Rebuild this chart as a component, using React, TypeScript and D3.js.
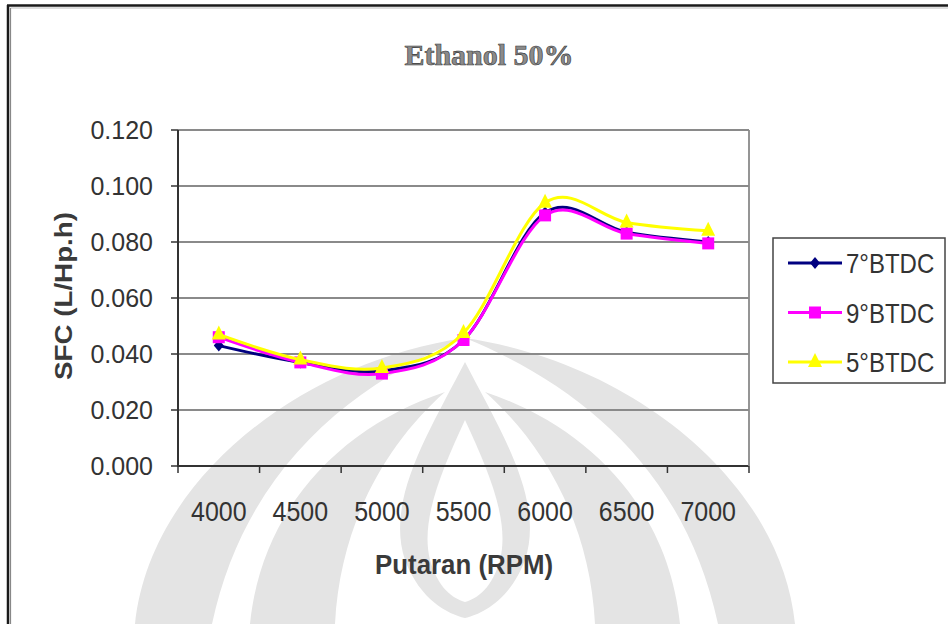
import React from "react";
import * as d3 from "d3";

const categories = ["4000", "4500", "5000", "5500", "6000", "6500", "7000"];
const s7 = [0.043, 0.037, 0.034, 0.045, 0.0905, 0.0835, 0.080];
const s9 = [0.046, 0.037, 0.033, 0.045, 0.0895, 0.083, 0.0795];
const s5 = [0.047, 0.038, 0.035, 0.0475, 0.094, 0.087, 0.084];
const yTicks = [0, 0.02, 0.04, 0.06, 0.08, 0.1, 0.12];
const seriesNames = ["7°BTDC", "9°BTDC", "5°BTDC"];
const seriesColors = ["#000080", "#FF00FF", "#FFFF00"];

const W = 948;
const H = 624;
const L = 178, R = 749, T = 130, B = 466;

// watermark (decorative background emblem), mirrored about x = 465
const wmLeft = [
  "M135,624 C150,480 300,362 465,338 C350,385 245,470 212,624 Z",
  "M250,624 C262,505 345,425 445,392 C385,445 340,525 335,624 Z",
];
const wmCenter =
  "M465,362 C500,430 545,500 525,560 C510,600 482,614 465,618 C448,614 420,600 405,560 C385,500 430,430 465,362 Z";
const wmCenterInner =
  "M465,420 C488,470 510,520 500,560 C492,588 478,598 465,602 C452,598 438,588 430,560 C420,520 442,470 465,420 Z";

export default function App() {
  const x = d3.scaleBand<string>().domain(categories).range([L, R]);
  const y = d3.scaleLinear().domain([0, 0.12]).range([B, T]);
  const cx = (c: string) => (x(c) as number) + x.bandwidth() / 2;
  const line = d3
    .line<number>()
    .x((_, i) => cx(categories[i]))
    .y((d) => y(d))
    .curve(d3.curveCardinal.tension(0));
  const allSeries = [s7, s9, s5];
  const font = "'Liberation Sans', Arial, sans-serif";
  const txt = "#333";
  const wm = "#e4e4e4";

  const marker = (k: number, px: number, py: number, key: string) => {
    if (k === 0) {
      return <path key={key} d={`M${px},${py - 6}L${px + 5},${py}L${px},${py + 6}L${px - 5},${py}Z`} fill="#000080" />;
    }
    if (k === 1) {
      return <rect key={key} x={px - 6} y={py - 6} width={12} height={12} fill="#FF00FF" />;
    }
    return <path key={key} d={`M${px},${py - 9}L${px + 7},${py + 5}L${px - 7},${py + 5}Z`} fill="#FFFF00" />;
  };

  return (
    <svg width={W} height={H} style={{ position: "absolute", left: 0, top: 0, background: "#fff" }}>
      <rect x={0} y={0} width={W} height={H} fill="#fff" />
      {/* watermark */}
      <g fill={wm}>
        {wmLeft.map((d, i) => (
          <g key={"wm" + i}>
            <path d={d} />
            <path d={d} transform="translate(930,0) scale(-1,1)" />
          </g>
        ))}
        <path d={wmCenter} />
        <path d={wmCenterInner} fill="#fff" />
      </g>
      {/* frame */}
      <line x1={7} y1={5.5} x2={W} y2={5.5} stroke="#1a1a1a" strokeWidth={2.5} />
      <line x1={8} y1={5} x2={8} y2={H} stroke="#1a1a1a" strokeWidth={2.5} />
      <line x1={10.5} y1={8} x2={W} y2={8} stroke="#bbb" strokeWidth={1} />
      <line x1={10.5} y1={8} x2={10.5} y2={H} stroke="#888" strokeWidth={1.2} />

      {/* title */}
      <text x={489} y={65} textAnchor="middle" fontFamily="'Liberation Serif', 'Times New Roman', serif" fontWeight="bold" fontSize={30} fill="#8a8a8a" stroke="#333" strokeWidth={0.6}>
        Ethanol 50%
      </text>

      {/* gridlines */}
      {yTicks.map((t) => (
        <line key={"g" + t} x1={L} x2={R} y1={y(t)} y2={y(t)} stroke={t === 0 ? "#333" : "#8a8a8a"} strokeWidth={t === 0 ? 2 : 1.8} />
      ))}
      <line x1={R} x2={R} y1={T} y2={B} stroke="#8a8a8a" strokeWidth={1.8} />
      <line x1={L} x2={L} y1={T} y2={B + 1} stroke="#333" strokeWidth={2} />
      {yTicks.map((t) => (
        <line key={"yt" + t} x1={L - 7} x2={L} y1={y(t)} y2={y(t)} stroke="#333" strokeWidth={1.5} />
      ))}
      {[...categories.map((c) => x(c) as number), R].map((v, i) => (
        <line key={"xt" + i} x1={v} x2={v} y1={B} y2={B + 7} stroke="#333" strokeWidth={1.5} />
      ))}

      {/* y tick labels */}
      {yTicks.map((t) => (
        <text key={"yl" + t} x={153} y={y(t) + 9} textAnchor="end" fontFamily={font} fontSize={25} fill={txt}>
          {t.toFixed(3)}
        </text>
      ))}
      {/* x tick labels */}
      {categories.map((c) => (
        <text key={"xl" + c} transform={`translate(${cx(c)},521) scale(1,1.12)`} textAnchor="middle" fontFamily={font} fontSize={25} fill={txt}>
          {c}
        </text>
      ))}

      {/* axis titles */}
      <text transform="translate(464,574) scale(1,1.1)" textAnchor="middle" fontFamily={font} fontSize={25} fontWeight="bold" fill="#3a3a3a" textLength={178} lengthAdjust="spacingAndGlyphs">
        Putaran (RPM)
      </text>
      <text transform="translate(72,296) rotate(-90)" textAnchor="middle" fontFamily={font} fontSize={24} fontWeight="bold" fill="#3a3a3a" textLength={168} lengthAdjust="spacingAndGlyphs">
        SFC (L/Hp.h)
      </text>

      {/* series */}
      {allSeries.map((s, k) => (
        <g key={"s" + k}>
          <path d={line(s) as string} fill="none" stroke={seriesColors[k]} strokeWidth={3} />
          {s.map((v, i) => marker(k, cx(categories[i]), y(v), `m${k}-${i}`))}
        </g>
      ))}

      {/* legend */}
      <rect x={773} y={238} width={172} height={145} fill="#fff" stroke="#444" strokeWidth={1.5} />
      {seriesNames.map((n, k) => {
        const ly = 263 + k * 49.5;
        return (
          <g key={"lg" + k}>
            <line x1={788} x2={842} y1={ly} y2={ly} stroke={seriesColors[k]} strokeWidth={3} />
            {marker(k, 815, ly, "lm" + k)}
            <text transform={`translate(846,${ly + 10}) scale(1,1.18)`} fontFamily={font} fontSize={24} fill={txt}>
              {n}
            </text>
          </g>
        );
      })}
    </svg>
  );
}
